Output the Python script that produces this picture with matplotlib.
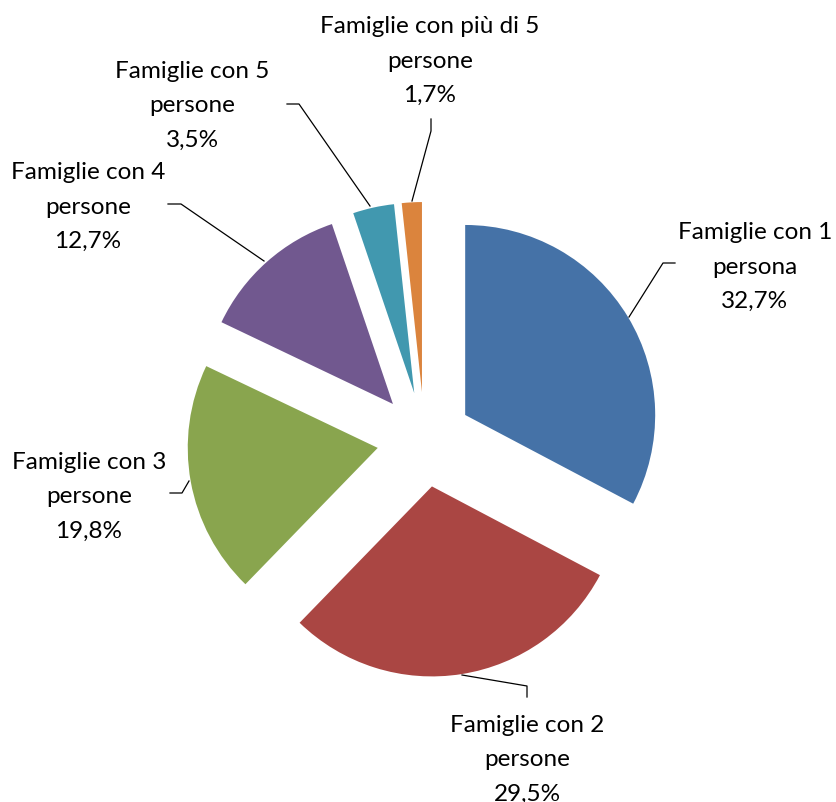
import matplotlib
matplotlib.use("Agg")
import matplotlib.pyplot as plt

labels = ["Famiglie con 1\npersona", "Famiglie con 2\npersone", "Famiglie con 3\npersone",
          "Famiglie con 4\npersone", "Famiglie con 5\npersone", "Famiglie con più di 5\npersone"]
values = [32.7, 29.5, 19.8, 12.7, 3.5, 1.7]
colors = ["#4572A7", "#AA4643", "#89A54E", "#71588F", "#4198AF", "#DB843D"]

# layout in pixels (image coords), converted to data units below
W, H = 836, 803
CX, CY, R = 424.5, 440.5, 190
label_pos = [(755, 267), (527, 760), (89, 497), (88, 207), (192, 106), (430, 61)]
leaders = [
    [(629, 318), (663, 264), (675, 264)],
    [(462, 676), (527, 687), (527, 698)],
    [(189, 482), (182, 494), (170, 494)],
    [(264, 262), (181, 205), (168, 205)],
    [(370, 207), (299, 105), (287, 105)],
    [(412, 202), (431, 132), (431, 120)],
]

def px(x, y):
    return (x - CX) / R, (CY - y) / R

fig = plt.figure(figsize=(W / 100, H / 100), dpi=100)
ax = fig.add_axes([0, 0, 1, 1])
ax.pie(values, colors=colors, startangle=90, counterclock=False,
       explode=[0.25] * len(values), radius=1, center=(0, 0),
       wedgeprops=dict(linewidth=0))
ax.set_xlim(-CX / R, (W - CX) / R)
ax.set_ylim(-(H - CY) / R, CY / R)
ax.set_aspect("auto")
ax.axis("off")

for lab, v, (lx, ly), pts in zip(labels, values, label_pos, leaders):
    xs, ys = zip(*[px(*p) for p in pts])
    ax.plot(xs, ys, color="black", lw=0.9)
    txt = f"{lab}\n{v:.1f}%".replace(".", ",")
    ax.text(*px(lx, ly), txt, ha="center", va="center", fontsize=17.5,
            family="Lato", linespacing=1.8)

fig.savefig("out.png", dpi=100)
